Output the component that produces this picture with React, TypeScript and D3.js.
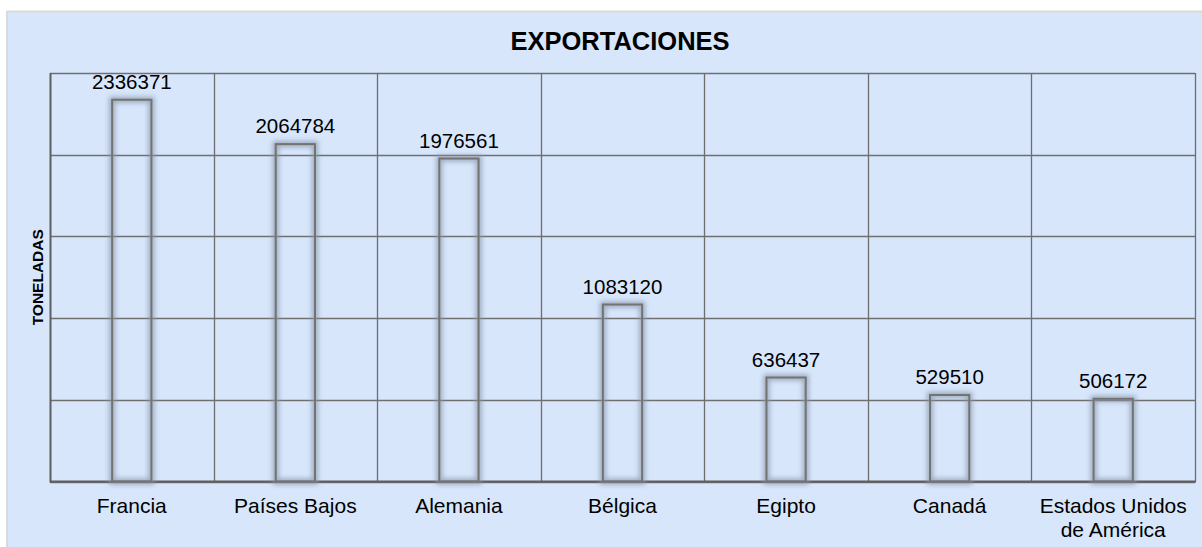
import React from "react";
import * as d3 from "d3";

const categories: string[][] = [
  ["Francia"],
  ["Países Bajos"],
  ["Alemania"],
  ["Bélgica"],
  ["Egipto"],
  ["Canadá"],
  ["Estados Unidos", "de América"],
];
const values = [2336371, 2064784, 1976561, 1083120, 636437, 529510, 506172];
const yTicks = [0, 500000, 1000000, 1500000, 2000000, 2500000];
const title = "EXPORTACIONES";
const yTitle = "TONELADAS";

const W = 1202;
const H = 547;
const left = 50;
const right = 1195;
const top = 73;
const bottom = 481.5;
const bg = "#d7e6fb";
const grid = "#6f6f6f";
const font = "'Liberation Sans', Arial, sans-serif";

export default function App() {
  const keys = categories.map((c) => c.join(" "));
  const x = d3.scaleBand<string>().domain(keys).range([left, right]).paddingInner(0).paddingOuter(0);
  const y = d3.scaleLinear().domain([0, 2500000]).range([bottom, top]);
  const bw = x.bandwidth() * 0.24;

  return (
    <svg width={W} height={H} style={{ position: "absolute", left: 0, top: 0, display: "block" }}>
      <defs>
        <filter id="glow" x="-50%" y="-50%" width="200%" height="200%">
          <feGaussianBlur stdDeviation="2.6" />
        </filter>
      </defs>
      <rect x={0} y={0} width={W} height={H} fill="#ffffff" />
      <rect x={7} y={11} width={W - 7} height={H} fill={bg} />
      <line x1={7} x2={W} y1={11.5} y2={11.5} stroke="#dadada" strokeWidth={2} />
      <line x1={7} x2={7} y1={11} y2={H} stroke="#dadada" strokeWidth={2} />

      <text x={620} y={50} textAnchor="middle" fontFamily={font} fontWeight="bold" fontSize={25.5} fill="#000">
        {title}
      </text>

      {yTicks.map((t) => (
        <line key={t} x1={left} x2={right} y1={Math.round(y(t)) + 0.5} y2={Math.round(y(t)) + 0.5} stroke={grid} strokeWidth={1.3} />
      ))}
      {keys.map((k, i) => (
        <line key={"v" + i} x1={Math.round(x(k)! + x.bandwidth()) + 0.5} x2={Math.round(x(k)! + x.bandwidth()) + 0.5} y1={top} y2={bottom} stroke={grid} strokeWidth={1.3} />
      ))}
      <line x1={left + 0.5} x2={left + 0.5} y1={top} y2={bottom + 1} stroke="#5e5e5e" strokeWidth={2} />
      <line x1={left} x2={right + 1} y1={bottom} y2={bottom} stroke="#5e5e5e" strokeWidth={2} />

      {values.map((v, i) => {
        const cx = x(keys[i])! + x.bandwidth() / 2;
        const bx = cx - bw / 2;
        const by = y(v);
        const h = bottom - by;
        return (
          <g key={"b" + i}>
            <rect x={bx} y={by} width={bw} height={h} fill="none" stroke="#8a96a8" strokeWidth={6} opacity={0.75} filter="url(#glow)" />
            <rect x={bx} y={by} width={bw} height={h} fill="none" stroke="#737373" strokeWidth={2} />
            <text x={cx} y={by - 11} textAnchor="middle" fontFamily={font} fontSize={20.5} fill="#000">
              {d3.format("d")(v)}
            </text>
          </g>
        );
      })}

      {categories.map((lines, i) => {
        const cx = x(keys[i])! + x.bandwidth() / 2;
        return (
          <text key={"c" + i} textAnchor="middle" fontFamily={font} fontSize={21} fill="#000">
            {lines.map((l, j) => (
              <tspan key={j} x={cx} y={513 + j * 24}>
                {l}
              </tspan>
            ))}
          </text>
        );
      })}

      <text
        transform={`translate(43, ${(top + bottom) / 2}) rotate(-90)`}
        textAnchor="middle"
        fontFamily={font}
        fontWeight="bold"
        fontSize={15.5}
        fill="#000"
      >
        {yTitle}
      </text>
    </svg>
  );
}
